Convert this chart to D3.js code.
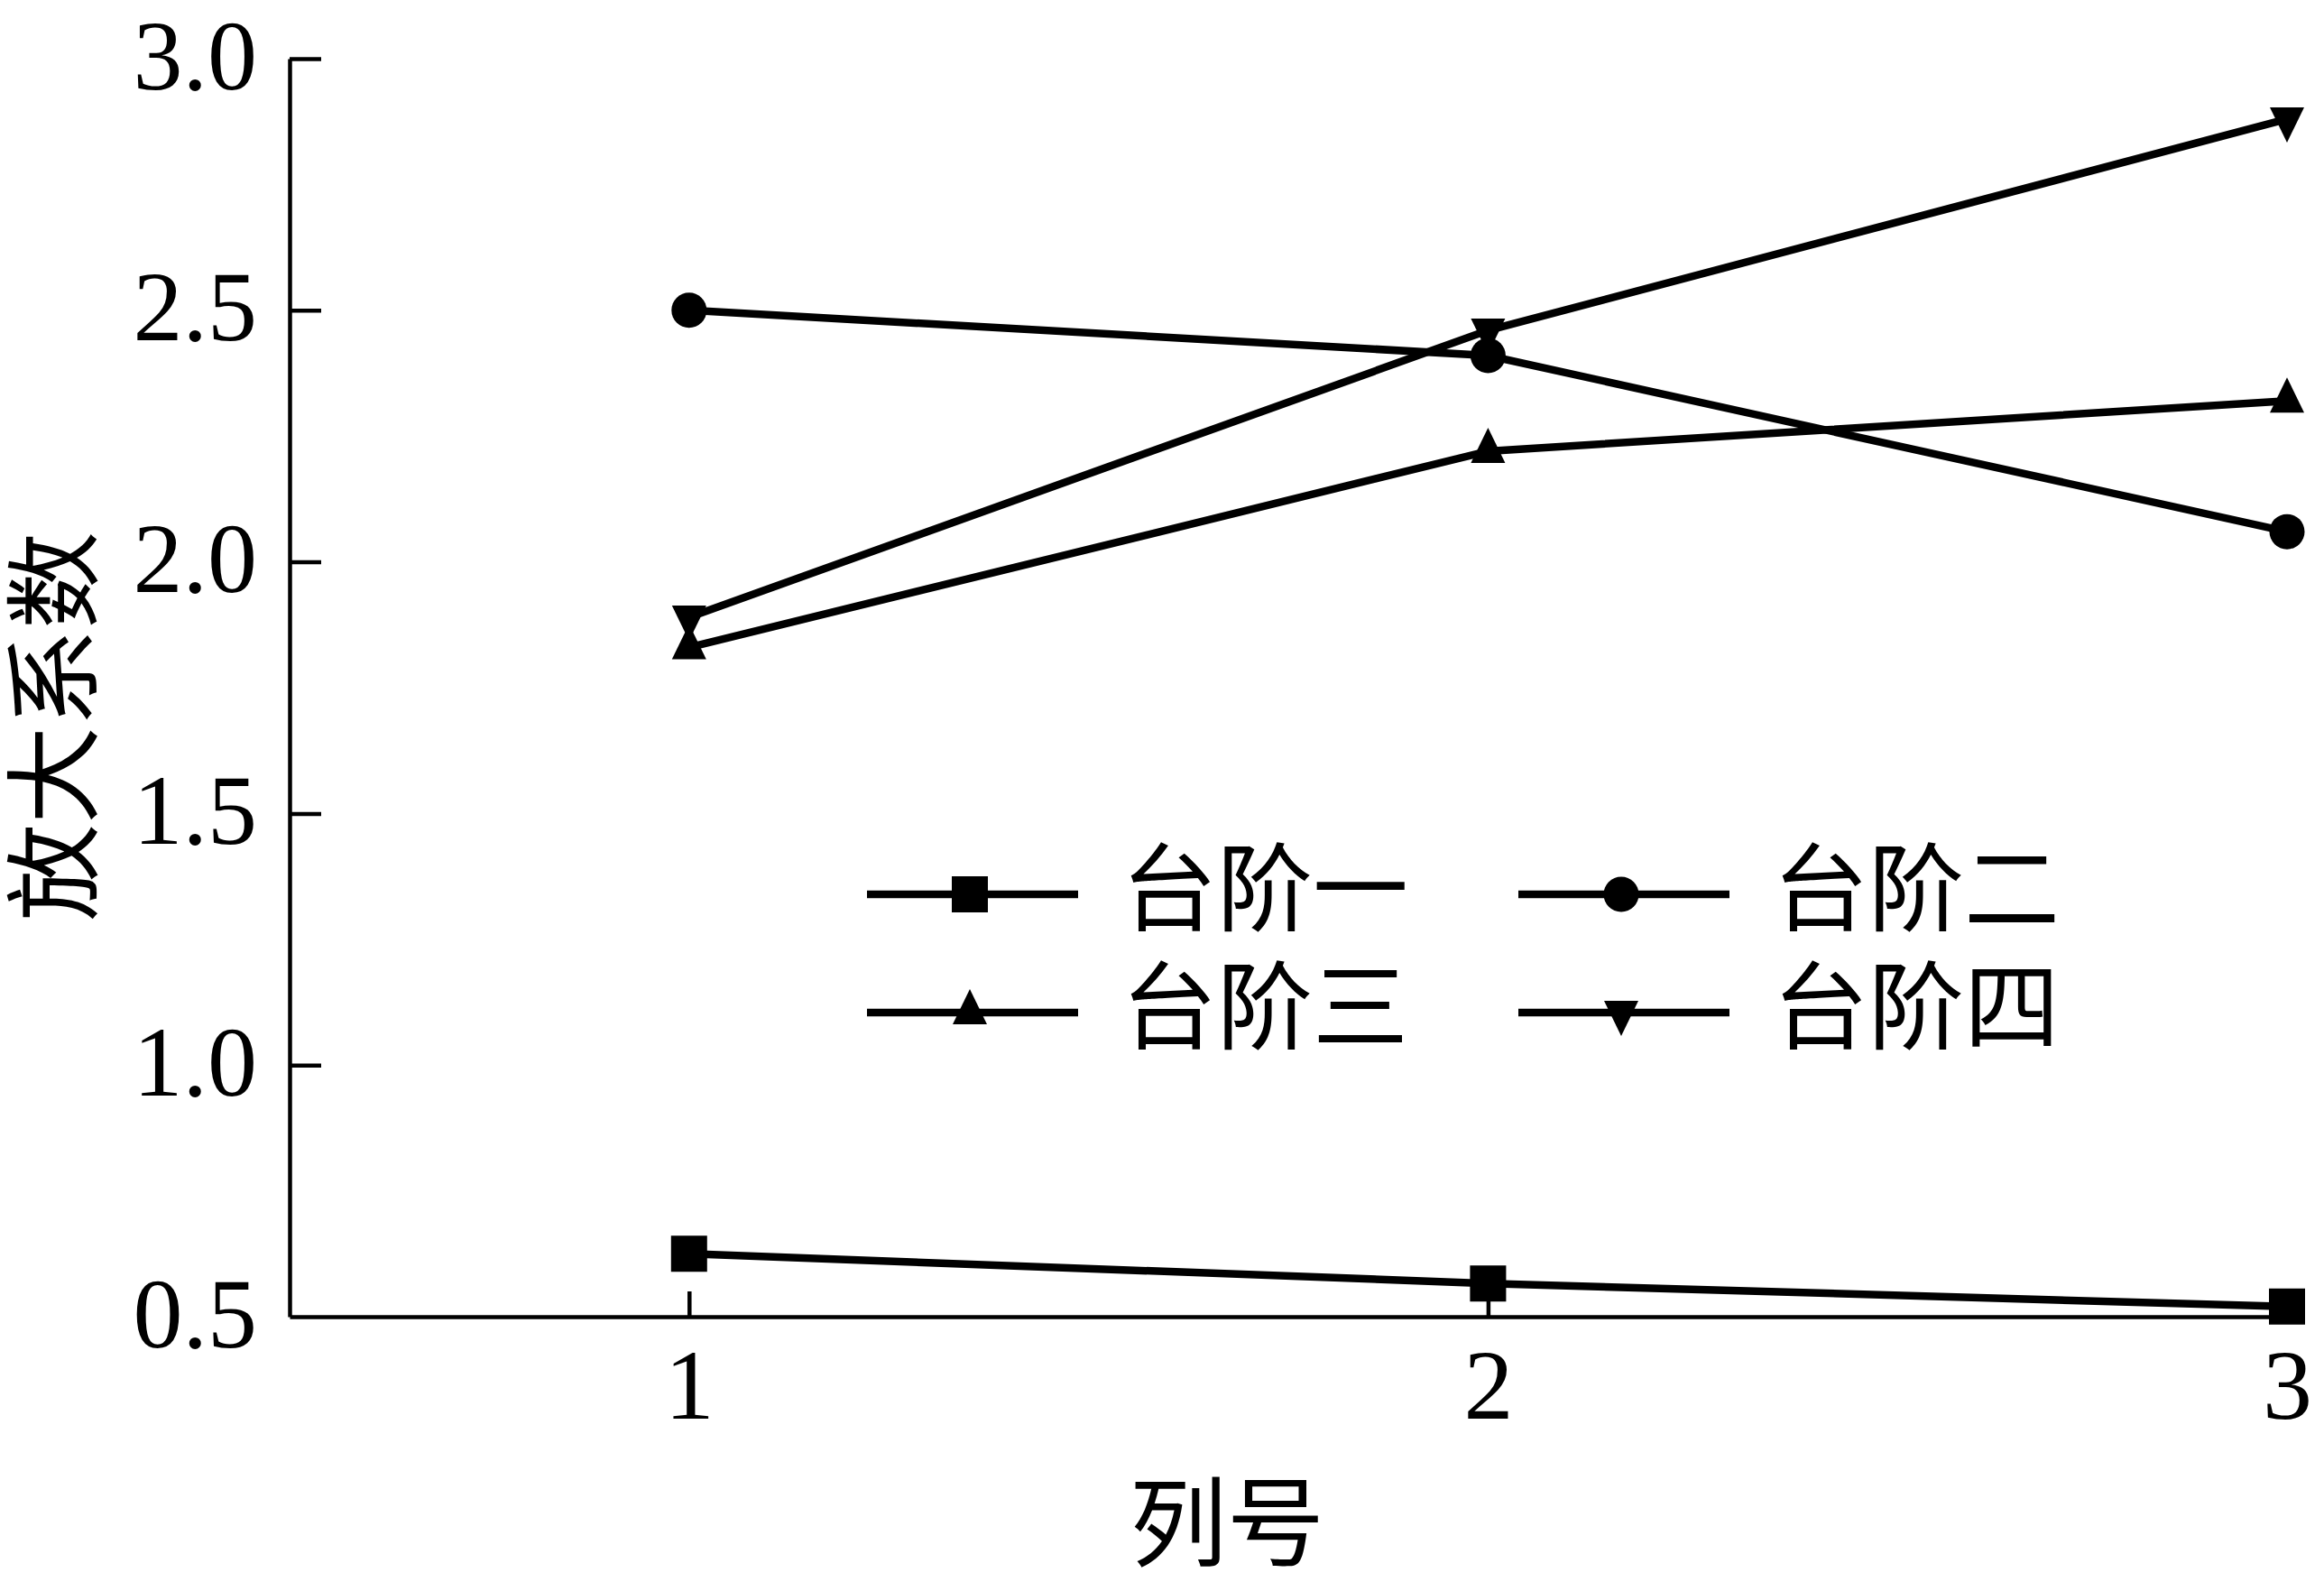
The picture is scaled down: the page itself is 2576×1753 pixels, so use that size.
<!DOCTYPE html>
<html>
<head>
<meta charset="utf-8">
<script src="https://cdn.jsdelivr.net/npm/d3@7"></script>
<style>
  html, body { margin: 0; padding: 0; background: #fff; }
  svg { display: block; }
</style>
</head>
<body>
<svg id="chart" width="2576" height="1753"></svg>
<script>
// Column numbers on the x axis
const columns = [1, 2, 3];

// Amplification factor for each bench, one value per column
const bench1 = [0.625, 0.566, 0.52];
const bench2 = [2.50, 2.41, 2.06];
const bench3 = [1.83, 2.22, 2.32];
const bench4 = [1.89, 2.46, 2.88];

const seriesNames = ["台阶一", "台阶二", "台阶三", "台阶四"];
const seriesShapes = ["square", "circle", "triangleUp", "triangleDown"];

const yTicks = [0.5, 1.0, 1.5, 2.0, 2.5, 3.0];
const xTicks = [1, 2, 3];

const xTitle = "列号";
const yTitle = "放大系数";

const series = [bench1, bench2, bench3, bench4].map((vals, i) => ({
  name: seriesNames[i],
  shape: seriesShapes[i],
  points: columns.map((c, j) => ({ x: c, y: vals[j] }))
}));

const svg = d3.select("#chart");
const plotLeft = 321, plotRight = 2535, plotTop = 65, plotBottom = 1459;

const x = d3.scaleLinear().domain([0.5, 3]).range([plotLeft, plotRight]);
const y = d3.scaleLinear().domain([0.5, 3]).range([plotBottom, plotTop]);

const numFont = "'Liberation Serif', 'Times New Roman', serif";
// Serif metrics first so the text boxes stay compact; CJK glyphs fall through to Noto
const cjkFont = "'Liberation Serif', 'Noto Sans CJK SC', 'Noto Sans CJK JP', sans-serif";

// Marker paths, centred on the data point (triangles on their centroid)
function markerPath(shape) {
  const s = 40, tw = 38, th = 39;
  switch (shape) {
    case "square":
      return `M${-s/2},${-s/2}H${s/2}V${s/2}H${-s/2}Z`;
    case "circle": {
      const r = 19.5;
      return `M${r},0A${r},${r} 0 1,1 ${-r},0A${r},${r} 0 1,1 ${r},0Z`;
    }
    case "triangleUp":
      return `M0,${-2*th/3}L${tw/2},${th/3}L${-tw/2},${th/3}Z`;
    case "triangleDown":
      return `M0,${2*th/3}L${tw/2},${-th/3}L${-tw/2},${-th/3}Z`;
  }
}

// Axes
const yAxis = d3.axisLeft(y).tickValues(yTicks).tickFormat(d3.format(".1f"))
  .tickSizeInner(-35).tickSizeOuter(0).tickPadding(36);
const gy = svg.append("g").attr("transform", `translate(${plotLeft},0)`).call(yAxis);
gy.select(".domain").attr("stroke", "#000").attr("stroke-width", 4.5);
gy.selectAll(".tick line").attr("stroke", "#000").attr("stroke-width", 4.5)
  .filter(d => d === 0.5).remove();
gy.selectAll(".tick text")
  .attr("font-family", numFont).attr("font-size", 110).attr("fill", "#000")
  .attr("dy", null).attr("dominant-baseline", "auto")
  .attr("y", 33).attr("x", -36);

const xAxis = d3.axisBottom(x).tickValues(xTicks).tickFormat(d3.format("d"))
  .tickSizeInner(-28).tickSizeOuter(0).tickPadding(0);
const gx = svg.append("g").attr("transform", `translate(0,${plotBottom})`).call(xAxis);
gx.select(".domain").attr("stroke", "#000").attr("stroke-width", 4.5);
gx.selectAll(".tick line").attr("stroke", "#000").attr("stroke-width", 4.5);
gx.selectAll(".tick text")
  .attr("font-family", numFont).attr("font-size", 110).attr("fill", "#000")
  .attr("dy", null).attr("y", 113);

// Axis titles
svg.append("text")
  .attr("transform", `translate(62,805) rotate(-90)`)
  .attr("text-anchor", "middle").attr("dominant-baseline", "central")
  .attr("font-family", cjkFont).attr("font-size", 108).attr("fill", "#000")
  .text(yTitle);

svg.append("text")
  .attr("x", 1360).attr("y", 1690)
  .attr("text-anchor", "middle").attr("dominant-baseline", "central")
  .attr("font-family", cjkFont).attr("font-size", 108).attr("fill", "#000")
  .text(xTitle);

// Lines and markers
const line = d3.line().x(d => x(d.x)).y(d => y(d.y));
const plot = svg.append("g");
series.forEach(s => {
  plot.append("path").datum(s.points).attr("d", line)
    .attr("fill", "none").attr("stroke", "#000").attr("stroke-width", 8.5)
    .attr("stroke-linejoin", "miter");
});
series.forEach(s => {
  plot.selectAll(null).data(s.points).enter().append("path")
    .attr("d", markerPath(s.shape))
    .attr("transform", d => `translate(${x(d.x)},${y(d.y)})`)
    .attr("fill", "#000");
});

// Legend, two columns by two rows
const legendCols = [961, 1683];
const legendRows = [991, 1122];
const legend = svg.append("g");
series.forEach((s, i) => {
  const lx = legendCols[i % 2], ly = legendRows[Math.floor(i / 2)];
  const g = legend.append("g").attr("transform", `translate(${lx},${ly})`);
  g.append("line").attr("x1", 0).attr("x2", 234).attr("y1", 0).attr("y2", 0)
    .attr("stroke", "#000").attr("stroke-width", 8.5);
  g.append("path").attr("d", markerPath(s.shape))
    .attr("transform", "translate(114,0)").attr("fill", "#000");
  g.append("text").attr("x", 282).attr("y", -4)
    .attr("dominant-baseline", "central")
    .attr("font-family", cjkFont).attr("font-size", 106).attr("fill", "#000")
    .text(s.name);
});
</script>
</body>
</html>
